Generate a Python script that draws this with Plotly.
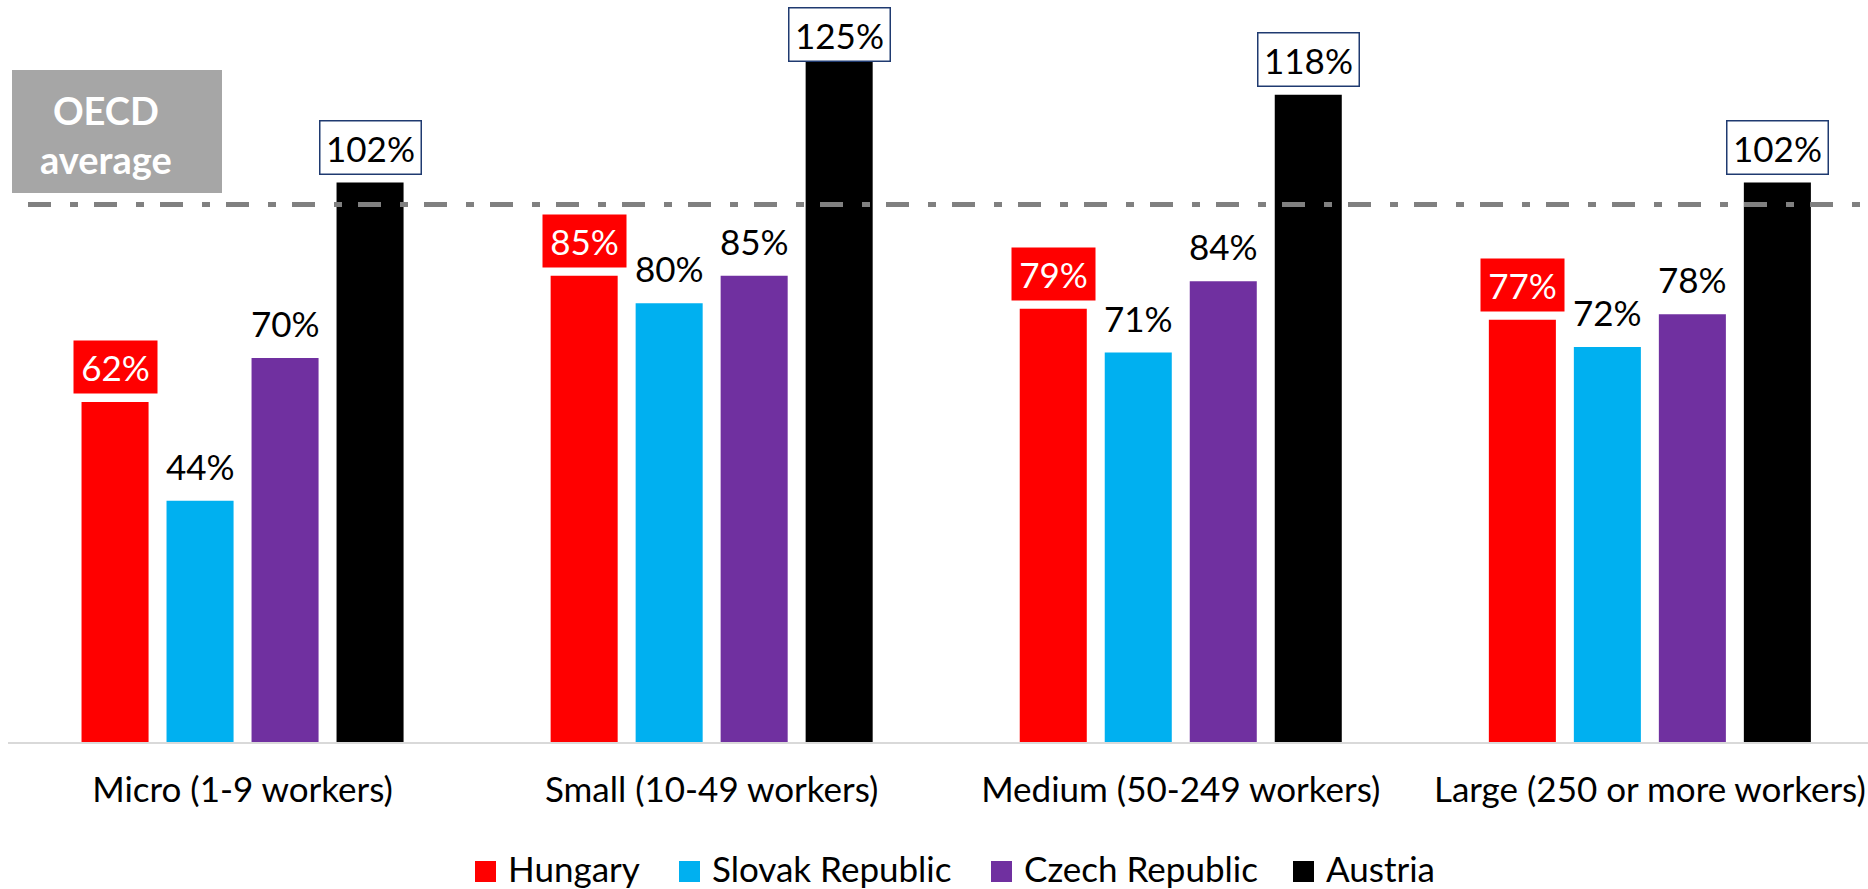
import plotly.graph_objects as go

# Size classes and the four countries compared
categories = [
    "Micro (1-9 workers)",
    "Small (10-49 workers)",
    "Medium (50-249 workers)",
    "Large (250 or more workers)",
]
series_names = ["Hungary", "Slovak Republic", "Czech Republic", "Austria"]
hungary = [62, 85, 79, 77]
slovak = [44, 80, 71, 72]
czech = [70, 85, 84, 78]
austria = [102, 125, 118, 102]
oecd_average = 98

series_values = [hungary, slovak, czech, austria]
series_colors = ["#FF0000", "#00B0F0", "#7030A0", "#000000"]

FONT = "Lato, 'Open Sans', sans-serif"
FS = 35

# Figure geometry (pixels)
W, H = 1868, 889
ML, MR, MT, MB = 8, 0, 0, 147
PW, PH = W - ML - MR, H - MT - MB
Y_MAX = 742 / 5.485


def px_x(px):
    return (px - ML) / PW


def px_y(py):
    return (H - MB - py) / PH


slot = 0.1812   # spacing between bars within a group (category units)
bar_w = 0.1429  # bar width (category units)

LABEL_H = 50    # height of a value label box
LABEL_GAP = 8   # space between bar top and its label
TOP_LIMIT = 12  # labels are kept below this pixel row

fig = go.Figure()
annotations = []
for k, (name, vals, col) in enumerate(zip(series_names, series_values, series_colors)):
    off = (k - 1.5) * slot
    xs = [i + off for i in range(len(categories))]
    fig.add_trace(go.Bar(
        x=xs, y=vals, width=bar_w, name=name,
        marker=dict(color=col, line=dict(width=0)),
        showlegend=False,
        hoverinfo="y+name",
    ))
    for x, v in zip(xs, vals):
        # keep the label inside the chart area: if it would run off the top,
        # slide it down so it overlaps the bar instead
        bar_top = MT + PH * (1 - v / Y_MAX)
        shift = LABEL_GAP
        if bar_top - LABEL_GAP - LABEL_H < TOP_LIMIT:
            shift = bar_top - LABEL_H - TOP_LIMIT
        ann = dict(
            x=x, y=v, xref="x", yref="y", text=f"{v}%",
            showarrow=False, xanchor="center", yanchor="bottom",
            yshift=shift, height=LABEL_H, valign="middle",
            font=dict(family=FONT, size=FS, color="black"),
        )
        if name == "Hungary":
            ann.update(bgcolor="#FF0000", width=81,
                       font=dict(family=FONT, size=FS, color="white"))
        elif name == "Austria":
            ann.update(bgcolor="white", bordercolor="#1F3A70", borderwidth=1.5,
                       width=98)
        annotations.append(ann)

# OECD average reference line
shapes = [dict(
    type="line", xref="paper", yref="y",
    x0=px_x(28), x1=px_x(1868), y0=oecd_average, y1=oecd_average,
    line=dict(color="#808080", width=5, dash="23px,19px,8px,16px"),
    layer="above",
)]

# OECD average label box
shapes.append(dict(
    type="rect", xref="paper", yref="paper",
    x0=px_x(12), x1=px_x(222), y0=px_y(193), y1=px_y(70),
    fillcolor="#A6A6A6", line=dict(width=0), layer="above",
))
annotations.append(dict(
    xref="paper", yref="paper", x=px_x(106), y=px_y(134),
    text="<b>OECD<br>average</b>", showarrow=False,
    xanchor="center", yanchor="middle",
    font=dict(family=FONT, size=38, color="white"),
))

# Legend drawn as swatches with labels
legend_sq = [475, 679, 991, 1293]
for name, col, x0 in zip(series_names, series_colors, legend_sq):
    shapes.append(dict(
        type="rect", xref="paper", yref="paper",
        x0=px_x(x0), x1=px_x(x0 + 21), y0=px_y(882), y1=px_y(861),
        fillcolor=col, line=dict(width=0),
    ))
    annotations.append(dict(
        xref="paper", yref="paper", x=px_x(x0 + 31), y=px_y(868),
        text=name, showarrow=False, xanchor="left", yanchor="middle",
        font=dict(family=FONT, size=FS, color="black"),
    ))

fig.update_layout(
    width=W, height=H,
    margin=dict(l=ML, r=MR, t=MT, b=MB),
    paper_bgcolor="white", plot_bgcolor="white",
    showlegend=False,
    xaxis=dict(
        range=[-0.5, 3.465],
        tickvals=list(range(len(categories))), ticktext=categories,
        tickfont=dict(family=FONT, size=FS, color="black"),
        ticklabelstandoff=16,
        showgrid=False, zeroline=False,
        showline=True, linecolor="#D9D9D9", linewidth=2,
        ticks="", fixedrange=True,
    ),
    yaxis=dict(
        range=[0, Y_MAX],
        visible=False, showgrid=False, zeroline=False, fixedrange=True,
    ),
    shapes=shapes,
    annotations=annotations,
)

fig.write_html("out.html")
